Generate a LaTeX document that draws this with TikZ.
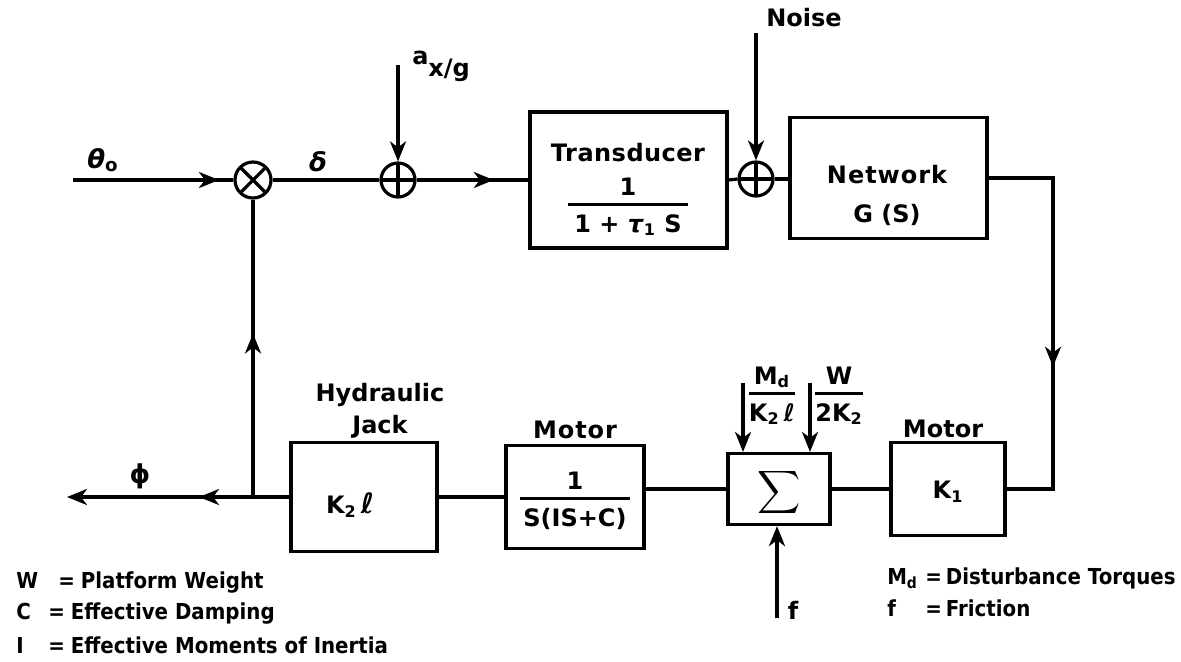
\documentclass[tikz,border=0pt]{standalone}
\usepackage{fontspec}
\usepackage{graphicx}
\setmainfont{DejaVu Sans}
\usetikzlibrary{arrows.meta,decorations.markings}
\setlength{\arrayrulewidth}{1.4pt}
\newcommand{\blkfrac}[2]{\begin{tabular}{@{}c@{}}#1\\\hline\rule{0pt}{13pt}#2\end{tabular}}
\tikzset{
  blk/.style={draw,line width=1.6pt,inner sep=0pt},
  sump/.style={circle,draw,line width=1.6pt,minimum size=17pt,inner sep=0pt,
    path picture={\draw[line width=1.6pt] (path picture bounding box.north) -- (path picture bounding box.south)
      (path picture bounding box.west) -- (path picture bounding box.east);}},
  sumx/.style={circle,draw,line width=1.6pt,minimum size=18pt,inner sep=0pt,
    path picture={\draw[line width=1.6pt] (path picture bounding box.north west) -- (path picture bounding box.south east)
      (path picture bounding box.north east) -- (path picture bounding box.south west);}},
  marr/.style={postaction={decorate},decoration={markings,mark=at position #1 with {\arrow{>}}}},
  greek/.style={font=\bfseries\fontsize{13}{15}\selectfont},
  legend/.style={anchor=west,font=\bfseries\fontsize{11}{13}\selectfont\addfontfeature{FakeStretch=0.9}},
}
\begin{document}
\begin{tikzpicture}[x=0.5pt,y=-0.5pt,line width=1.6pt,>={Stealth[length=10pt,width=8pt,inset=3pt]},font=\bfseries\fontsize{12}{14}\selectfont]
  \useasboundingbox (0,0) rectangle (1181,661);

  % summing points
  \node[sumx] (mul) at (253,180) {};
  \node[sump] (s1) at (398,180) {};
  \node[sump] (s2) at (756,179) {};

  % blocks
  \node[blk,minimum width=98.5pt,minimum height=68pt] (tr) at (628.5,180) {};
  \node[blk,minimum width=98.5pt,minimum height=60.5pt] (net) at (888.5,178) {};
  \node[blk,minimum width=73pt,minimum height=54.5pt] (jack) at (364,497) {};
  \node[blk,minimum width=69pt,minimum height=51.5pt] (mot) at (575,497) {};
  \node[blk,minimum width=51pt,minimum height=35.5pt] (sig) at (779,489) {};
  \node[blk,minimum width=57pt,minimum height=46.5pt] (k1) at (948,489) {};

  % block texts
  \node (trt) at (628,153) {\addfontfeature{LetterSpace=2}Transducer};
  \node (trf) at (628,208) {\blkfrac{1}{\makebox[60pt]{1 + \textit{τ}\textsubscript{1} S}}};
  \node (nett) at (887,175) {\addfontfeature{LetterSpace=4}Network};
  \node (netg) at (887,215) {G (S)};
  \node (jackt) at (350,505) {K\textsubscript{2}\,{\fontsize{14}{14}\selectfont\textit{ℓ}}};
  \node[align=center] (jackl) at (380,411) {Hydraulic\\[2pt]Jack};
  \node (mott) at (575,430) {\addfontfeature{LetterSpace=4}Motor};
  \node (motf) at (575,502) {\blkfrac{1}{\makebox[55pt]{S(IS+C)}}};
  \node (sigt) at (779,492) {\scalebox{1.5}{$\displaystyle\sum$}};
  \node (k1t) at (948,492) {K\textsubscript{1}};
  \node (k1l) at (943,429) {Motor};

  % signal labels
  \node[greek] (thl) at (103,160) {\textit{θ}\textsubscript{o}};
  \node[greek] (dl) at (318,162) {\textit{δ}};
  \node[anchor=west] (ag) at (404,66) {\raisebox{6pt}{a}x/g};
  \node (nz) at (804,18) {Noise};
  \node[greek] (ph) at (140,476) {ϕ};
  \node (mdl) at (772,397) {\blkfrac{M\textsubscript{d}}{K\textsubscript{2}\,\textit{ℓ}}};
  \node (wl) at (839,397) {\blkfrac{W}{2K\textsubscript{2}}};
  \node (fl) at (793,610) {f};

  % forward path
  \coordinate (in) at (73,180);
  \draw[marr=0.91] (in) -- (mul.west);
  \draw (mul.east) -- (s1.west);
  \draw[marr=0.69] (s1.east) -- (tr.west);
  \coordinate (ain) at (398,65);
  \draw[->] (ain) -- (s1.north);
  \draw (tr.east) -- (s2.west);
  \coordinate (nin) at (756,33);
  \draw[->] (nin) -- (s2.north);
  \draw (s2.east) -- (s2.east -| net.west);
  \coordinate (rc) at (1053,489);
  \draw[marr=0.6] (net.east) -| (rc) -- (k1.east);
  \draw (k1.west) -- (sig.east);
  \draw (sig.west) -- (sig.west -| mot.east);
  \draw (mot.west) -- (jack.east);

  % feedback and output
  \coordinate (jn) at (253,497);
  \draw (jack.west) -- (jn);
  \draw[marr=0.55] (jn) -- (mul.south);
  \coordinate (out) at (67,497);
  \draw[->,marr=0.29] (jn) -- (out);

  % disturbances
  \coordinate (mdin) at (743,383);
  \draw[->] (mdin) -- (mdin |- sig.north);
  \coordinate (wtin) at (810,383);
  \draw[->] (wtin) -- (wtin |- sig.north);
  \coordinate (fin) at (777,618);
  \draw[->] (fin) -- (fin |- sig.south);

  % legend
  \node[legend] (lgw) at (8,582) {\makebox[21pt][l]{W}=\hspace{3pt}Platform Weight};
  \node[legend] (lgc) at (8,613) {\makebox[16pt][l]{C}=\hspace{3pt}Effective Damping};
  \node[legend] (lgi) at (8,645) {\makebox[16pt][l]{I}=\hspace{3pt}Effective Moments of Inertia};
  \node[legend] (lgm) at (879,578) {\makebox[19pt][l]{M\textsubscript{d}}=\hspace{2pt}Disturbance Torques};
  \node[legend] (lgf) at (879,608) {\makebox[19pt][l]{f}=\hspace{2pt}Friction};
\end{tikzpicture}
\end{document}
